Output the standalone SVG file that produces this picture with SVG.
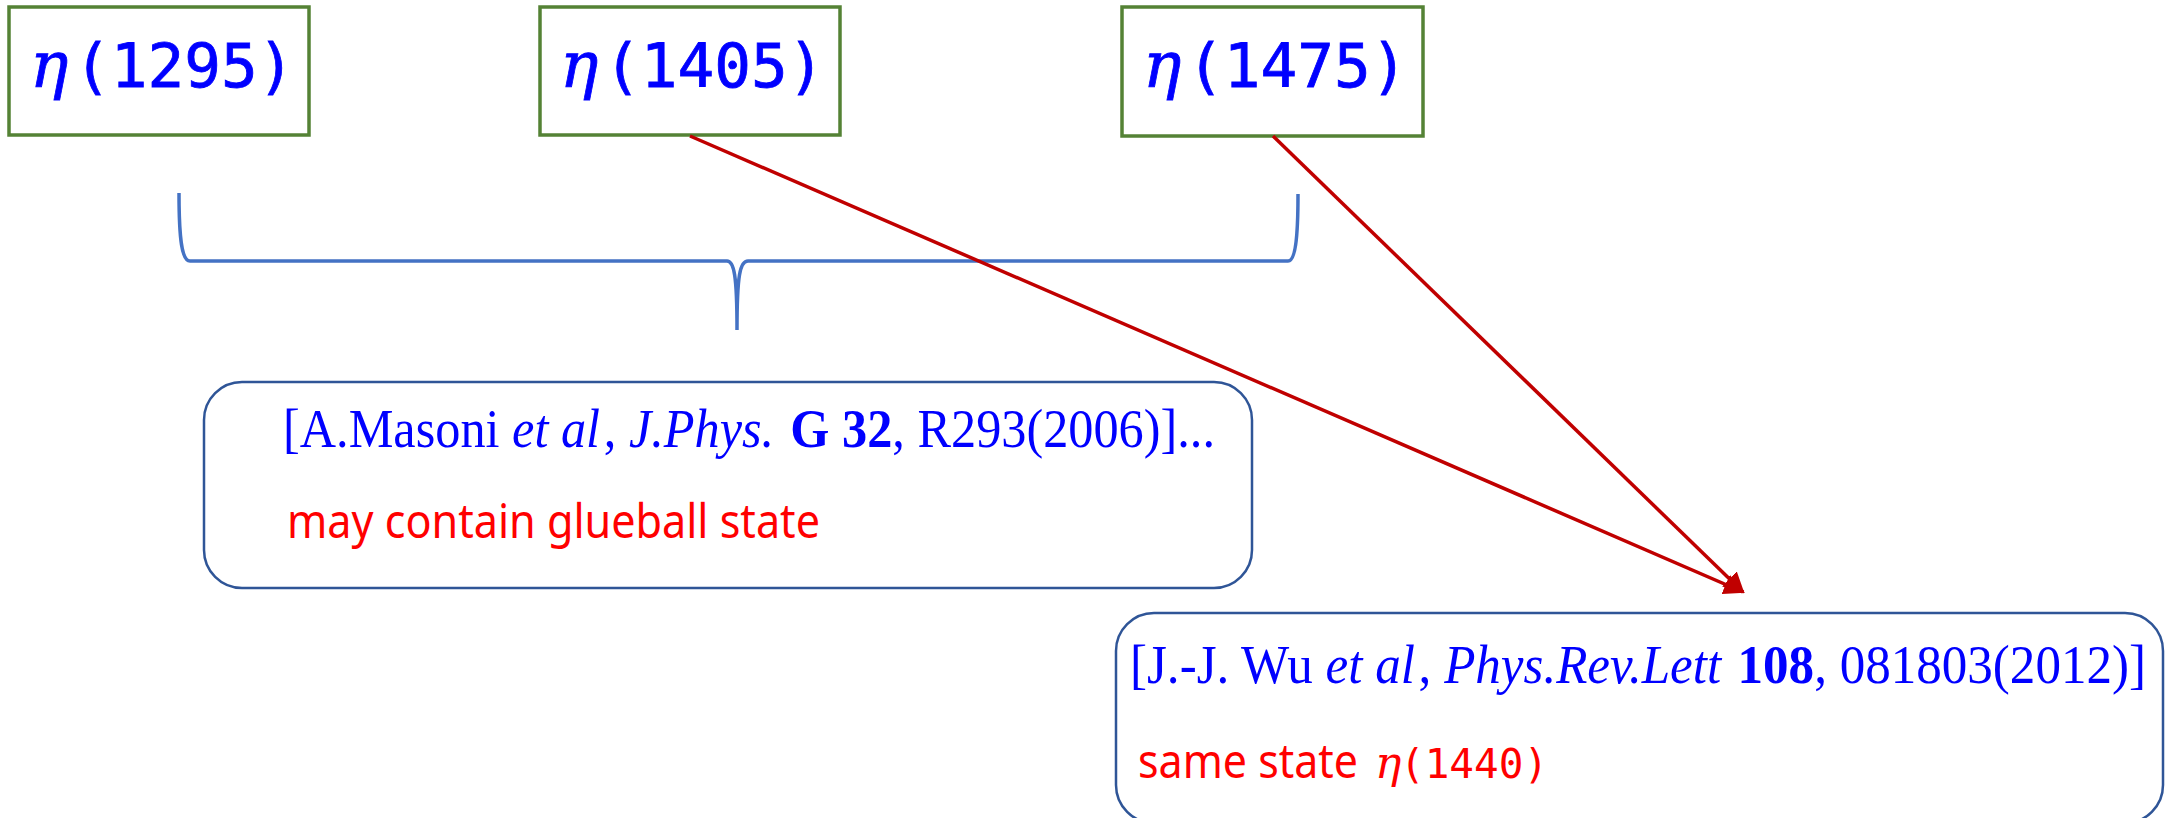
<svg xmlns="http://www.w3.org/2000/svg" width="2165" height="818" viewBox="0 0 2165 818">
<style>
.top{fill:#fff;stroke:#548235;stroke-width:3.5}
.ref{fill:#fff;stroke:#2F5597;stroke-width:2.5}
.eta{font-family:"DejaVu Serif","Liberation Serif",serif;font-style:italic}
.mono{font-family:"DejaVu Sans Mono","Liberation Mono",monospace}
.big{stroke:#0000FF;stroke-width:0.8}
.cite{font-family:"Liberation Serif","Times New Roman",serif;font-size:55px;fill:#0000FF}
.note{font-family:"Noto Sans","Liberation Sans",sans-serif;font-size:47px;fill:#FF0000}
.conn{fill:none;stroke:#C00000;stroke-width:3.5}
</style>
<defs>
<marker id="ah" viewBox="0 0 10 10" refX="9" refY="5" markerWidth="6" markerHeight="6" orient="auto" markerUnits="strokeWidth">
<path d="M0,0 L10,5 L0,10 z" fill="#C00000"/>
</marker>
</defs>
<g id="n1295">
<rect class="top" x="9" y="7" width="300" height="128"/>
<text y="87" fill="#0000FF" class="big"><tspan class="eta" x="30" font-size="64">η</tspan><tspan class="mono" x="74" font-size="61">(1295)</tspan></text>
</g>
<g id="n1405">
<rect class="top" x="540" y="7" width="300" height="128"/>
<text y="87" fill="#0000FF" class="big"><tspan class="eta" x="560" font-size="64">η</tspan><tspan class="mono" x="604" font-size="61">(1405)</tspan></text>
</g>
<g id="n1475">
<rect class="top" x="1122" y="7" width="301" height="129"/>
<text y="87" fill="#0000FF" class="big"><tspan class="eta" x="1143" font-size="64">η</tspan><tspan class="mono" x="1187" font-size="61">(1475)</tspan></text>
</g>
<g id="brace">
<path d="M179,193 C179,240 182,261 190,261 L727,261 C734,261 737,275 737,330 C737,275 740,261 748,261 L1288,261 C1295,261 1298,240 1298,194" fill="none" stroke="#4472C4" stroke-width="3.5"/>
</g>
<g id="masoni">
<rect class="ref" x="204" y="382" width="1048" height="206" rx="38" ry="38"/>
<text class="cite" x="283" y="447" textLength="932" lengthAdjust="spacingAndGlyphs">[A.Masoni <tspan font-style="italic">et al</tspan><tspan dx="4">, </tspan><tspan font-style="italic">J.Phys.</tspan><tspan dx="4">  </tspan><tspan font-weight="bold">G 32</tspan>, R293(2006)]...</text>
<text class="note" x="287" y="538" textLength="533" lengthAdjust="spacingAndGlyphs">may contain glueball state</text>
</g>
<g id="wu">
<rect class="ref" x="1116" y="613" width="1047" height="210" rx="38" ry="38"/>
<text class="cite" x="1130" y="683" textLength="1016" lengthAdjust="spacingAndGlyphs">[J.-J. Wu <tspan font-style="italic">et al</tspan><tspan dx="4">, </tspan><tspan font-style="italic">Phys.Rev.Lett</tspan><tspan dx="4"> </tspan><tspan font-weight="bold">108</tspan>, 081803(2012)]</text>
<text class="note" x="1138" y="778" textLength="220" lengthAdjust="spacingAndGlyphs">same state</text>
<text y="778" fill="#FF0000"><tspan class="eta" x="1375" font-size="44">η</tspan><tspan class="mono" x="1400" font-size="41">(1440)</tspan></text>
</g>
<g id="connectors">
<line class="conn" x1="690" y1="136" x2="1743" y2="592" marker-end="url(#ah)"/>
<line class="conn" x1="1273" y1="136" x2="1743" y2="592" marker-end="url(#ah)"/>
</g>
</svg>
